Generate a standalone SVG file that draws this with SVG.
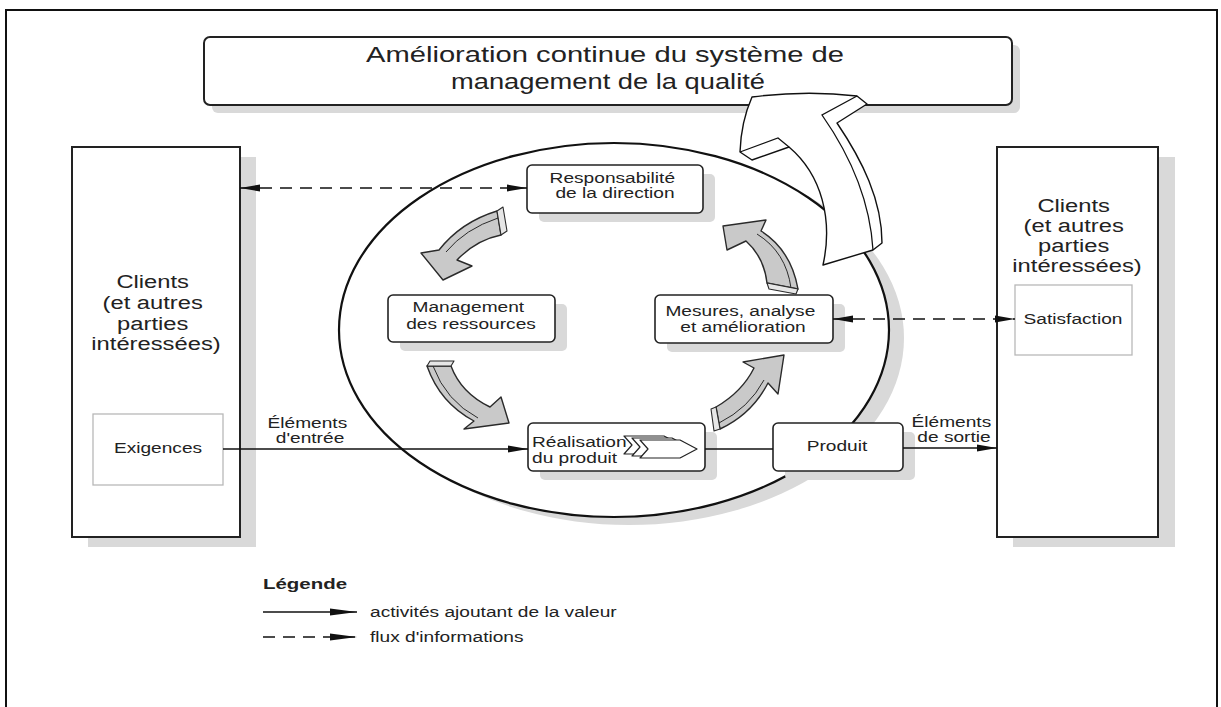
<svg xmlns="http://www.w3.org/2000/svg" width="1221" height="707" viewBox="0 0 1221 707">
  <defs>
    <style>
      .frame { fill: none; stroke: #111; stroke-width: 2; }
      .sh { fill: #d9d9d9; }
      .box { fill: #fff; stroke: #222; stroke-width: 1.6; }
      .big { fill: #fff; stroke: #222; stroke-width: 2; }
      .inner { fill: #fff; stroke: #b8b8b8; stroke-width: 1.3; }
      .t { font-family: "Liberation Sans", Arial, sans-serif; fill: #222; font-size: 14.5px; }
      .c { text-anchor: middle; }
      .ln { fill: none; stroke: #111; stroke-width: 1.4; }
      .dash { stroke-dasharray: 12 8; }
      .garrow { fill: #c9c9c9; stroke: #2a2a2a; stroke-width: 1.4; stroke-linejoin: round; }
      .face { fill: #e6e6e6; stroke: #2a2a2a; stroke-width: 1.1; stroke-linejoin: round; }
      .bevel { fill: none; stroke: #2a2a2a; stroke-width: 1; }
      .chev { fill: #fff; stroke: #222; stroke-width: 1.2; stroke-linejoin: round; }
    </style>
    <marker id="ah" viewBox="0 0 20 8" refX="20" refY="4" markerWidth="20" markerHeight="8" markerUnits="userSpaceOnUse" orient="auto-start-reverse">
      <path d="M0,0.6 L20,4 L0,7.4 Z" fill="#111"/>
    </marker>
    <marker id="ahLeg" viewBox="0 0 27 8" refX="27" refY="4" markerWidth="27" markerHeight="8" markerUnits="userSpaceOnUse" orient="auto">
      <path d="M0,0.5 L27,4 L0,7.5 Z" fill="#111"/>
    </marker>
  </defs>

  <rect width="1221" height="707" fill="#fff"/>

  <!-- page frame -->
  <path class="frame" d="M6,707 V10 H1217 V707"/>

  <!-- title box -->
  <g id="title">
    <rect class="sh" x="212" y="45" width="808" height="68" rx="6"/>
    <rect class="box" x="204" y="37" width="808" height="68" rx="6" style="stroke-width:2"/>
    <text class="t c" style="font-size:21.5px" x="605" y="62" textLength="478" lengthAdjust="spacingAndGlyphs">Amélioration continue du système de</text>
    <text class="t c" style="font-size:21.5px" x="608" y="89" textLength="314" lengthAdjust="spacingAndGlyphs">management de la qualité</text>
  </g>

  <!-- process circle -->
  <g id="cycle">
    <ellipse class="sh" cx="629" cy="338" rx="275" ry="187"/>
    <ellipse cx="614" cy="330" rx="275" ry="187" fill="#fff" stroke="#111" stroke-width="2.2"/>
  </g>

  <!-- interested parties, input side -->
  <g id="clients-in">
    <rect class="sh" x="88" y="157" width="168" height="390"/>
    <rect class="big" x="72" y="147" width="168" height="390"/>
    <text class="t c" style="font-size:18px" transform="matrix(1.32 0 0 1 156 0)">
      <tspan x="0" y="288">Clients</tspan>
      <tspan x="0" y="309">(et autres</tspan>
      <tspan x="0" y="330">parties</tspan>
      <tspan x="0" y="350">intéressées)</tspan>
    </text>
  </g>
  <g id="exigences">
    <rect class="inner" x="93" y="414" width="130" height="71"/>
    <text class="t c" transform="matrix(1.32 0 0 1 158 0)" x="0" y="453">Exigences</text>
  </g>

  <!-- interested parties, output side -->
  <g id="clients-out">
    <rect class="sh" x="1013" y="157" width="162" height="390"/>
    <rect class="big" x="997" y="147" width="161" height="390"/>
    <text class="t c" style="font-size:18px" transform="matrix(1.32 0 0 1 1077 0)">
      <tspan x="0" y="212">Clients</tspan>
      <tspan x="0" y="232">(et autres</tspan>
      <tspan x="0" y="252">parties</tspan>
      <tspan x="0" y="272">intéressées)</tspan>
    </text>
  </g>
  <g id="satisfaction">
    <rect class="inner" x="1015" y="285" width="117" height="70"/>
    <text class="t c" transform="matrix(1.32 0 0 1 1073 0)" x="0" y="324">Satisfaction</text>
  </g>

  <!-- process nodes -->
  <g id="responsabilite">
    <rect class="sh" x="539" y="174" width="176" height="48" rx="5"/>
    <rect class="box" x="527" y="165" width="176" height="48" rx="5"/>
    <text class="t c" transform="matrix(1.32 0 0 1 615 0)">
      <tspan x="0" y="183">Responsabilité</tspan>
      <tspan x="0" y="198">de la direction</tspan>
    </text>
  </g>
  <g id="management">
    <rect class="sh" x="400" y="304" width="167" height="47" rx="5"/>
    <rect class="box" x="388" y="295" width="167" height="47" rx="5"/>
    <text class="t c" transform="matrix(1.32 0 0 1 471 0)">
      <tspan x="0" y="312">Management</tspan>
      <tspan x="0" y="329">des ressources</tspan>
    </text>
  </g>
  <g id="mesures">
    <rect class="sh" x="667" y="304" width="178" height="48" rx="5"/>
    <rect class="box" x="655" y="295" width="178" height="48" rx="5"/>
    <text class="t c" transform="matrix(1.32 0 0 1 743 0)">
      <tspan x="0" y="316">Mesures, analyse</tspan>
      <tspan x="0" y="332">et amélioration</tspan>
    </text>
  </g>
  <g id="realisation">
    <rect class="sh" x="540" y="432" width="177" height="48" rx="5"/>
    <rect class="box" x="528" y="423" width="177" height="48" rx="5"/>
    <text class="t" transform="matrix(1.32 0 0 1 532 0)">
      <tspan x="0" y="447">Réalisation</tspan>
      <tspan x="0" y="463">du produit</tspan>
    </text>
    <path class="chev" d="M624,436 L664,436 L681,445 L664,454 L624,454 L632,445 Z"/>
    <path class="chev" d="M632,438 L672,438 L689,447 L672,456 L632,456 L640,447 Z"/>
    <path class="chev" d="M640,440 L680,440 L697,449 L680,458 L640,458 L648,449 Z"/>
  </g>
  <g id="produit">
    <rect class="sh" x="785" y="432" width="130" height="48" rx="5"/>
    <rect class="box" x="773" y="423" width="130" height="48" rx="5"/>
    <text class="t c" transform="matrix(1.32 0 0 1 837 0)" x="0" y="451">Produit</text>
  </g>

  <!-- connectors -->
  <g id="connectors">
    <line class="ln dash" x1="240" y1="188" x2="527" y2="188" marker-start="url(#ah)" marker-end="url(#ah)"/>
    <line class="ln dash" x1="833" y1="319" x2="1015" y2="319" marker-start="url(#ah)" marker-end="url(#ah)"/>
    <line class="ln" x1="223" y1="449" x2="528" y2="449" marker-end="url(#ah)"/>
    <line class="ln" x1="705" y1="449" x2="773" y2="449"/>
    <line class="ln" x1="903" y1="448" x2="997" y2="448" marker-end="url(#ah)"/>
    <text class="t c" transform="matrix(1.32 0 0 1 310 0)">
      <tspan x="0" y="428">Éléments</tspan>
      <tspan x="0" y="443">d'entrée</tspan>
    </text>
    <text class="t c" transform="matrix(1.32 0 0 1 954 0)">
      <tspan x="0" y="427">Éléments</tspan>
      <tspan x="0" y="442">de sortie</tspan>
    </text>
  </g>

  <!-- cycle arrows -->
  <g id="cycle-arrows">
    <path class="garrow" d="M497,211 Q461,222 439,250 L421,253 L443,280 L472,266 L457,260 Q476,240 501,235 Z"/>
    <path class="face" d="M497,211 L503,207 L507,231 L501,235 Z"/>
    <path class="bevel" d="M498,218 Q465,229 446,252"/>

    <path class="garrow" d="M767,283 Q764,257 746,241 L727,250 L723,226 L766,220 L761,231 Q791,250 798,289 Z"/>
    <path class="face" d="M767,283 L798,289 L796,294 L769,289 Z"/>
    <path class="bevel" d="M791,288 Q786,252 757,234"/>

    <path class="garrow" d="M427,366 Q440,403 474,421 L464,429 L509,423 L501,397 L490,407 Q461,393 451,366 Z"/>
    <path class="face" d="M427,366 L451,366 L454,361 L430,361 Z"/>
    <path class="bevel" d="M433,366 Q446,401 478,418"/>

    <path class="garrow" d="M716,407 Q742,392 754,368 L743,362 L784,355 L778,394 L768,383 Q752,414 720,429 Z"/>
    <path class="face" d="M716,407 L720,429 L714,431 L711,409 Z"/>
    <path class="bevel" d="M719,423 Q749,408 764,380"/>
  </g>

  <!-- continual improvement arrow -->
  <g id="improvement">
    <path d="M752,97 Q806,90 857,96 L867,104 L837,123 C862,160 882,200 882,243 L873,250 L823,265 C833,220 822,175 789,147 L752,160 L740,152 Q741,122 752,97 Z" fill="#fff" stroke="#111" stroke-width="1.4" stroke-linejoin="round"/>
    <path d="M857,96 L822,115 C850,155 870,200 873,250" fill="none" stroke="#111" stroke-width="1.3"/>
    <path d="M740,152 L778,138 L789,147" fill="none" stroke="#111" stroke-width="1.2"/>
  </g>

  <!-- legend -->
  <g id="legend">
    <text class="t" style="font-size:15.5px;font-weight:bold" transform="matrix(1.32 0 0 1 263 0)" x="0" y="589">Légende</text>
    <line class="ln" x1="263" y1="612" x2="357" y2="612" marker-end="url(#ahLeg)"/>
    <text class="t" transform="matrix(1.32 0 0 1 370 0)" x="0" y="617">activités ajoutant de la valeur</text>
    <line class="ln dash" x1="263" y1="637" x2="357" y2="637" marker-end="url(#ahLeg)"/>
    <text class="t" transform="matrix(1.32 0 0 1 370 0)" x="0" y="642">flux d'informations</text>
  </g>
</svg>
